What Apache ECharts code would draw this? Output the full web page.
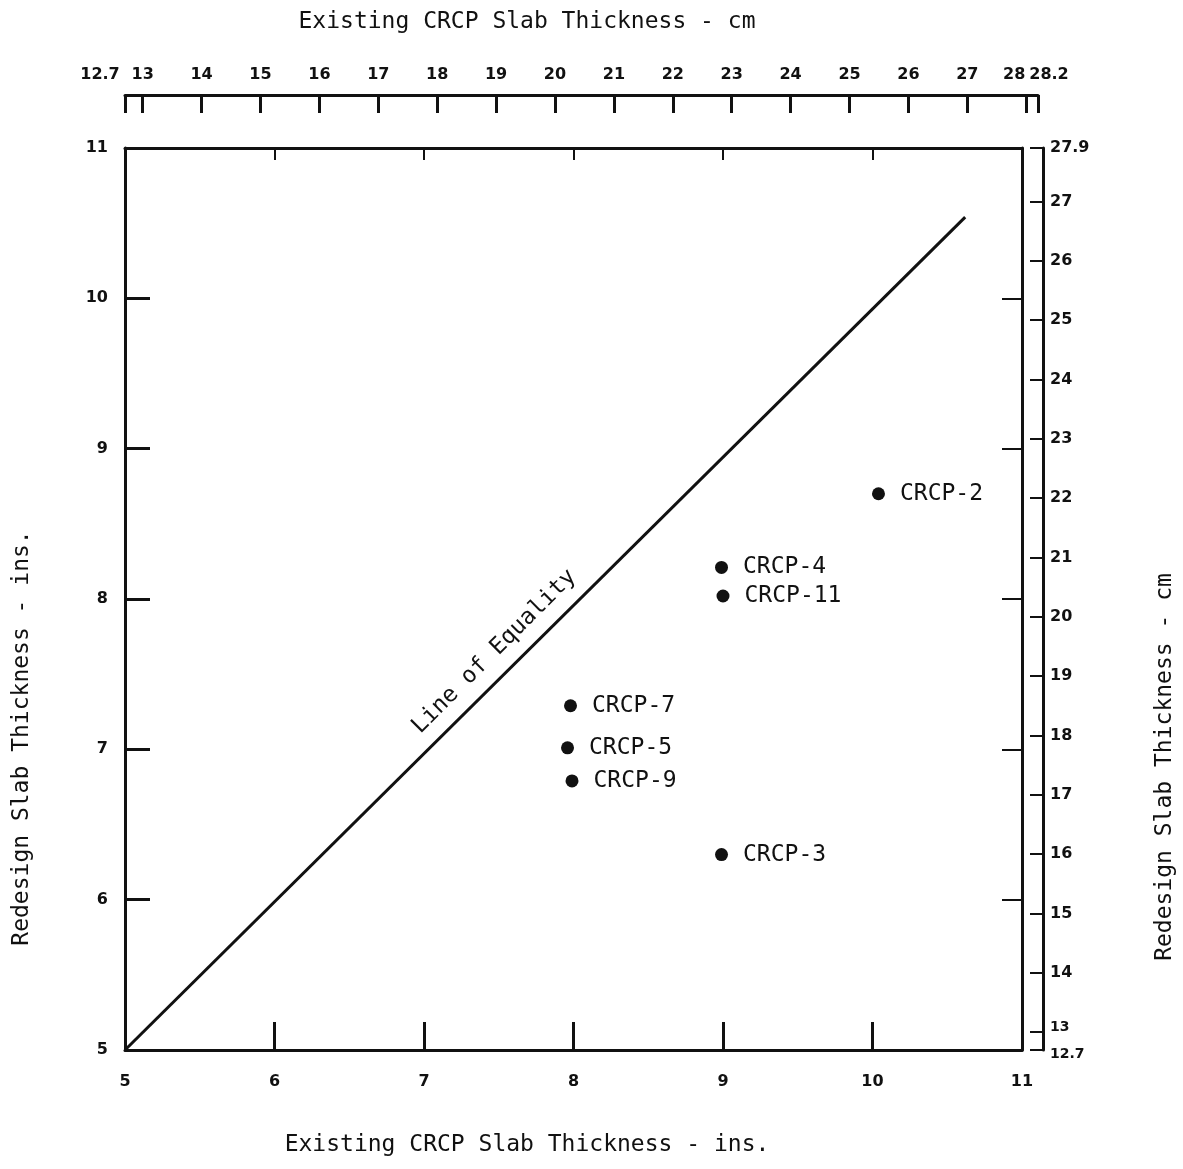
<!DOCTYPE html>
<html><head><meta charset="utf-8">
<script src="https://cdn.jsdelivr.net/npm/echarts@6/dist/echarts.min.js"></script>
<style>html,body{margin:0;padding:0;background:#fff}#c{width:1183px;height:1169px}</style>
</head><body><div id="c"></div><script>
// ---- data ----
const siteNames = ['CRCP-2', 'CRCP-4', 'CRCP-11', 'CRCP-7', 'CRCP-5', 'CRCP-9', 'CRCP-3'];
const existingIns = [10.04, 8.99, 9.0, 7.98, 7.96, 7.99, 8.99];
const redesignIns = [8.70, 8.21, 8.02, 7.29, 7.01, 6.79, 6.30];
const equalityX = [5, 10.62];
const equalityY = [5, 10.54];
const equalityLabel = 'Line of Equality';
const equalityLabelAt = [7.47, 7.65];
const topCmTicks = [12.7, 13, 14, 15, 16, 17, 18, 19, 20, 21, 22, 23, 24, 25, 26, 27, 28, 28.2];
const rightCmTicks = [12.7, 13, 14, 15, 16, 17, 18, 19, 20, 21, 22, 23, 24, 25, 26, 27, 27.9];
const titleTop = 'Existing CRCP Slab Thickness - cm';
const titleBottom = 'Existing CRCP Slab Thickness - ins.';
const titleLeft = 'Redesign Slab Thickness - ins.';
const titleRight = 'Redesign Slab Thickness - cm';

// ---- chart ----
const INK = '#111';
const MONO = '"DejaVu Sans Mono", "Liberation Mono", monospace';
const SANS = '"DejaVu Sans", sans-serif';
const chart = echarts.init(document.getElementById('c'), null, {renderer: 'canvas'});
const line3 = {lineStyle: {color: INK, width: 3}};
const numLabel = {color: INK, fontFamily: SANS, fontSize: 16, fontWeight: 'bold'};
const near = (a, b) => Math.abs(a - b) < 1e-6;

const option = {
  animation: false,
  backgroundColor: '#fff',
  grid: [
    {left: 125, top: 148, width: 897, height: 902},
    {left: 125, top: 95, width: 913, height: 1},
    {left: 1042, top: 148, width: 1, height: 902}
  ],
  xAxis: [
    {gridIndex: 0, type: 'value', position: 'bottom', min: 5, max: 11, interval: 1,
     axisLine: {onZero: false, ...line3},
     axisTick: {inside: true, length: 28, lineStyle: {color: INK, width: 3}},
     axisLabel: {...numLabel, margin: 24},
     splitLine: {show: false}},
    {gridIndex: 0, type: 'value', position: 'top', min: 5, max: 11, interval: 1,
     axisLine: {onZero: false, ...line3},
     axisTick: {inside: true, length: 12, lineStyle: {color: INK, width: 2}},
     axisLabel: {show: false}, splitLine: {show: false}},
    {gridIndex: 1, type: 'value', position: 'top', min: 12.7, max: 28.2,
     axisLine: {onZero: false, ...line3},
     axisTick: {inside: true, length: 18, customValues: topCmTicks, lineStyle: {color: INK, width: 3}},
     axisLabel: {customValues: topCmTicks, margin: 12, ...numLabel,
       formatter: v => near(v, 12.7) ? '{l|12.7}' : near(v, 28) ? '{m|28}' : near(v, 28.2) ? '{r|28.2}' : String(v),
       rich: {
         l: {...numLabel, padding: [0, 50, 0, 0]},
         m: {...numLabel, padding: [0, 24, 0, 0]},
         r: {...numLabel, padding: [0, 0, 0, 22]}
       }},
     splitLine: {show: false}},
    {gridIndex: 2, type: 'value', show: false, min: 0, max: 1}
  ],
  yAxis: [
    {gridIndex: 0, type: 'value', position: 'left', min: 5, max: 11, interval: 1,
     axisLine: {onZero: false, ...line3},
     axisTick: {inside: true, length: 25, lineStyle: {color: INK, width: 3}},
     axisLabel: {...numLabel, margin: 17},
     splitLine: {show: false}},
    {gridIndex: 0, type: 'value', position: 'right', min: 5, max: 11, interval: 1,
     axisLine: {onZero: false, ...line3},
     axisTick: {inside: true, length: 20, lineStyle: {color: INK, width: 2}},
     axisLabel: {show: false}, splitLine: {show: false}},
    {gridIndex: 1, type: 'value', show: false, min: 0, max: 1},
    {gridIndex: 2, type: 'value', position: 'right', min: 12.7, max: 27.9,
     axisLine: {onZero: false, ...line3},
     axisTick: {inside: true, length: 13, customValues: rightCmTicks, lineStyle: {color: INK, width: 2}},
     axisLabel: {customValues: rightCmTicks, margin: 7, ...numLabel,
       formatter: v => near(v, 13) ? '{u|13}' : near(v, 12.7) ? '{d|12.7}' : String(v),
       rich: {
         u: {...numLabel, fontSize: 14, padding: [0, 0, 10, 0]},
         d: {...numLabel, fontSize: 14, padding: [8, 0, 0, 0]}
       }},
     splitLine: {show: false}}
  ],
  series: [
    {type: 'line', xAxisIndex: 0, yAxisIndex: 0, symbol: 'none',
     data: equalityX.map((x, i) => [x, equalityY[i]]),
     lineStyle: {color: INK, width: 3}, z: 3},
    {type: 'scatter', xAxisIndex: 0, yAxisIndex: 0, symbol: 'circle', symbolSize: 13,
     itemStyle: {color: INK, opacity: 1},
     data: siteNames.map((n, i) => ({name: n, value: [existingIns[i], redesignIns[i]]})),
     label: {show: true, position: 'right', distance: 15, formatter: '{b}', opacity: 1,
       color: INK, fontFamily: MONO, fontSize: 23}},
    {type: 'scatter', xAxisIndex: 0, yAxisIndex: 0, symbolSize: 0,
     itemStyle: {opacity: 1},
     data: [{name: equalityLabel, value: equalityLabelAt}],
     label: {show: true, position: 'inside', rotate: 45, formatter: '{b}', opacity: 1,
       color: INK, fontFamily: MONO, fontSize: 23}}
  ],
  graphic: [
    {type: 'text', x: 527, y: 22, style: {text: titleTop, font: '23px ' + MONO, fill: INK, align: 'center', verticalAlign: 'middle', textAlign: 'center', textVerticalAlign: 'middle'}},
    {type: 'text', x: 527, y: 1145, style: {text: titleBottom, font: '23px ' + MONO, fill: INK, align: 'center', verticalAlign: 'middle', textAlign: 'center', textVerticalAlign: 'middle'}},
    {type: 'text', x: 22, y: 738, rotation: Math.PI / 2, style: {text: titleLeft, font: '23px ' + MONO, fill: INK, align: 'center', verticalAlign: 'middle', textAlign: 'center', textVerticalAlign: 'middle'}},
    {type: 'text', x: 1165, y: 767, rotation: Math.PI / 2, style: {text: titleRight, font: '23px ' + MONO, fill: INK, align: 'center', verticalAlign: 'middle', textAlign: 'center', textVerticalAlign: 'middle'}}
  ]
};
chart.setOption(option);
</script></body></html>
